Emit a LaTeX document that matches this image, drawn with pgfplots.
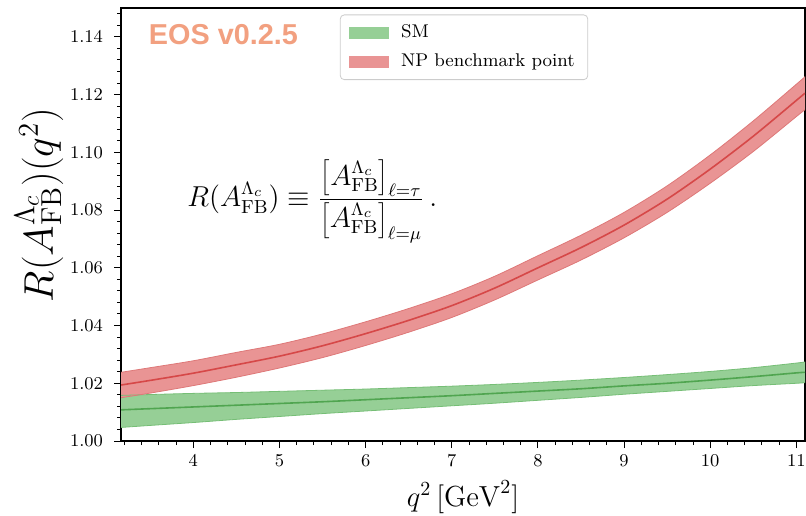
\documentclass[border=0pt]{standalone}
\usepackage{fontspec}
\usepackage{pgfplots}
\usepackage{pgfplotstable}
\usepgfplotslibrary{fillbetween}
\pgfplotsset{compat=1.18}
\newfontfamily\eosfont{Liberation Sans}
\definecolor{gfill}{RGB}{150,207,150}
\definecolor{gedge}{RGB}{118,190,118}
\definecolor{gline}{RGB}{80,165,80}
\definecolor{rfill}{RGB}{233,148,148}
\definecolor{redge}{RGB}{222,120,120}
\definecolor{rline}{RGB}{214,72,72}
\definecolor{eoscol}{RGB}{242,160,128}

\pgfplotstableread{
x lo mid hi
3.16 1.0047 1.0108 1.0158
3.5 1.0054 1.0112 1.0161
4.0 1.0064 1.0118 1.0165
4.5 1.0075 1.0124 1.0168
5.0 1.0085 1.0130 1.0172
5.5 1.0095 1.0136 1.0176
6.0 1.0104 1.0143 1.0180
6.5 1.0113 1.0150 1.0185
7.0 1.0122 1.0157 1.0190
7.5 1.0131 1.0165 1.0196
8.0 1.0141 1.0173 1.0203
8.5 1.0151 1.0181 1.0211
9.0 1.0162 1.0191 1.0220
9.5 1.0172 1.0200 1.0230
10.0 1.0182 1.0211 1.0241
10.5 1.0192 1.0223 1.0254
11.0 1.0200 1.0236 1.0270
11.1 1.0202 1.0238 1.0274
}\smtab

\pgfplotstableread{
x lo mid hi
3.16 1.0150 1.0194 1.0238
3.5 1.0166 1.0210 1.0254
4.0 1.0192 1.0235 1.0278
4.5 1.0221 1.0264 1.0307
5.0 1.0253 1.0294 1.0335
5.5 1.0289 1.0330 1.0371
6.0 1.0331 1.0372 1.0413
6.5 1.0377 1.0418 1.0459
7.0 1.0428 1.0469 1.0510
7.5 1.0489 1.0530 1.0571
8.0 1.0558 1.0600 1.0642
8.5 1.0627 1.0670 1.0713
9.0 1.0704 1.0748 1.0792
9.5 1.0792 1.0838 1.0884
10.0 1.0893 1.0942 1.0991
10.5 1.1003 1.1056 1.1109
11.0 1.1124 1.1180 1.1236
11.1 1.1148 1.1205 1.1262
}\nptab

\begin{document}
\begin{tikzpicture}
\begin{axis}[
  scale only axis, width=342pt, height=216.5pt,
  xmin=3.16, xmax=11.1, ymin=1.0, ymax=1.15,
  xtick={4,5,6,7,8,9,10,11},
  ytick={1.00,1.02,1.04,1.06,1.08,1.10,1.12,1.14},
  minor xtick={3.2,3.4,...,11.0},
  minor ytick={1.004,1.008,...,1.149},
  yticklabel style={xshift=-2pt, /pgf/number format/.cd, fixed, fixed zerofill, precision=2},
  tick align=outside, xtick pos=bottom, ytick pos=left,
  major tick length=3.5pt, minor tick length=2pt,
  every tick/.style={black, line width=0.5pt},
  axis line style={line width=0.8pt},
  ticklabel style={font=\fontsize{8.7}{10}\selectfont},
  xlabel={$q^2\,[\mathrm{GeV}^2]$},
  ylabel={$R(A_{\mathrm{FB}}^{\Lambda_c})(q^2)$},
  xlabel style={at={(rel axis cs:0.5,-0.129)}, anchor=center, font=\fontsize{14.5}{17}\selectfont},
  ylabel style={at={(rel axis cs:-0.12,0.545)}, anchor=center, font=\fontsize{20.74}{25}\selectfont},
  legend style={at={(0.320,0.985)}, anchor=north west, draw=black!20, rounded corners=2pt,
    font=\fontsize{9.2}{11.3}\selectfont, inner xsep=4.5pt, inner ysep=3pt, row sep=2.5pt, fill=white,
    cells={anchor=west}, /tikz/every odd column/.append style={column sep=4pt}},
  legend columns=1,
]
% SM band
\addplot[name path=smhi, draw=none, smooth, forget plot] table[x=x,y=hi]{\smtab};
\addplot[name path=smlo, draw=none, smooth, forget plot] table[x=x,y=lo]{\smtab};
\addplot[gfill, forget plot] fill between[of=smhi and smlo];
\addplot[gedge, line width=0.4pt, smooth, forget plot] table[x=x,y=hi]{\smtab};
\addplot[gedge, line width=0.4pt, smooth, forget plot] table[x=x,y=lo]{\smtab};
\addplot[gline, line width=0.8pt, smooth, forget plot] table[x=x,y=mid]{\smtab};
% NP band
\addplot[name path=nphi, draw=none, smooth, forget plot] table[x=x,y=hi]{\nptab};
\addplot[name path=nplo, draw=none, smooth, forget plot] table[x=x,y=lo]{\nptab};
\addplot[rfill, forget plot] fill between[of=nphi and nplo];
\addplot[redge, line width=0.4pt, smooth, forget plot] table[x=x,y=hi]{\nptab};
\addplot[redge, line width=0.4pt, smooth, forget plot] table[x=x,y=lo]{\nptab};
\addplot[rline, line width=0.8pt, smooth, forget plot] table[x=x,y=mid]{\nptab};

\addlegendimage{legend image code/.code={\fill[gfill, sharp corners] (0pt,-2.6pt) rectangle (19.5pt,2.6pt);}}
\addlegendentry{SM}
\addlegendimage{legend image code/.code={\fill[rfill, sharp corners] (0pt,-2.6pt) rectangle (19.5pt,2.6pt);}}
\addlegendentry{NP benchmark point}

\node[anchor=base west, inner sep=0pt, text=eoscol, font={\fontsize{14.4}{17}\eosfont\bfseries}] at (axis cs:3.48,1.1373) {EOS v0.2.5};
\node[anchor=west, inner sep=0pt, font=\fontsize{13.5}{16}\selectfont] at (axis cs:3.926,1.0830)
  {$\displaystyle R(A_{\mathrm{FB}}^{\Lambda_c}) \equiv \frac{\left[A_{\mathrm{FB}}^{\Lambda_c}\right]_{\ell=\tau}}{\left[A_{\mathrm{FB}}^{\Lambda_c}\right]_{\ell=\mu}}\,.$};
\end{axis}
\pgfresetboundingbox
\path[use as bounding box] ([xshift=-60.5pt,yshift=-37pt]current axis.south west) rectangle ([xshift=0.5pt,yshift=4pt]current axis.north east);
\end{tikzpicture}
\end{document}
